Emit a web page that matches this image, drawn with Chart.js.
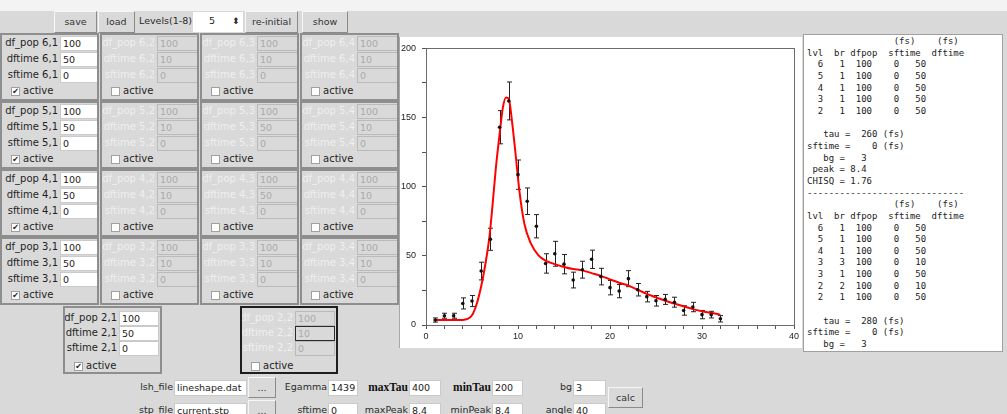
<!DOCTYPE html>
<html>
<head>
<meta charset="utf-8">
<title>lifetime fit</title>
<script src="https://cdn.jsdelivr.net/npm/chart.js@4.4.1/dist/chart.umd.min.js"></script>
<style>
  body { margin: 0; width: 1007px; height: 414px; overflow: hidden; position: relative;
         background: #d9d9d9; font-family: "DejaVu Sans", sans-serif; font-size: 9.5px; color: #2b2b2b; }
  #top { position: absolute; left: 0; top: 0; width: 1007px; height: 11px; background: #f3f3f3; }
  .btn { position: absolute; box-sizing: border-box; background: #d9d9d9; border: 1px solid;
         border-color: #f6f6f6 #8a8a8a #8a8a8a #f6f6f6; text-align: center; color: #333; }
  .ent { position: absolute; box-sizing: border-box; background: #fff; border: 1px solid #cacaca;
         padding-left: 2px; white-space: nowrap; overflow: hidden; color: #222; }
  .ent.off { background: #d9d9d9; border-color: #bababa; color: #a9a9a9; }
  .lbl { position: absolute; white-space: nowrap; text-align: right; }
  .panel { position: absolute; box-sizing: border-box; border: 2px solid #8e8e8e; overflow: hidden; }
  .panel .lbl { font-size: 10px; }
  .box { position: absolute; box-sizing: border-box; background: #fff; border: 1px solid #a0a0a0;
         font-size: 8px; text-align: center; color: #222; }
  #plot { position: absolute; left: 399px; top: 37px; width: 402px; height: 311px; background: #fff;
          border-left: 1px solid #a8a8a8; }
  #log { position: absolute; left: 803px; top: 34px; width: 200px; height: 318px; box-sizing: border-box;
         background: #fff; border: 1px solid #a0a0a0; overflow: hidden; }
  #log pre { margin: 0; padding: 1px 0 0 3px; font-family: "DejaVu Sans Mono", monospace; font-size: 9px;
             line-height: 11.65px; color: #222; }
</style>
</head>
<body>
<div id="top"></div>
<div id="plot"><canvas id="fit-chart"></canvas></div>
<div id="log"><pre>                (fs)    (fs)
lvl  br dfpop  sftime  dftime
  6   1  100    0   50
  5   1  100    0   50
  4   1  100    0   50
  3   1  100    0   50
  2   1  100    0   50

   tau =  260 (fs)
sftime =    0 (fs)
   bg =   3
 peak = 8.4
CHISQ = 1.76
-----------------------------
                (fs)    (fs)
lvl  br dfpop  sftime  dftime
  6   1  100    0   50
  5   1  100    0   50
  4   1  100    0   50
  3   3  100    0   10
  3   1  100    0   50
  2   2  100    0   10
  2   1  100    0   50

   tau =  280 (fs)
sftime =    0 (fs)
   bg =   3</pre></div>
<script>
// measured spectrum (counts per channel) with errors
var channels = [1, 2, 3, 4, 5, 6, 7, 8, 9, 10, 11, 12, 13, 14, 15, 16,
                17, 18, 19, 20, 21, 22, 23, 24, 25, 26, 27, 28, 29, 30, 31, 32];
var counts = [3.6, 6.7, 6.7, 15.6, 17.3, 39, 62, 143, 162, 108.7, 89.5, 71.4, 44.5, 51.5, 44, 32.5,
              40, 47.5, 35, 27, 24.5, 33.5, 25.5, 20.5, 17.5, 18.5, 16.5, 10.5, 13, 7.5, 7.5, 4.5];
var errors = [1.5, 1.8, 1.8, 4, 4, 6.4, 8, 12, 13.7, 10.6, 9.6, 8.4, 7, 9, 7, 5.7,
              6.1, 6.6, 6, 5.2, 4.8, 5.8, 4.5, 3.8, 3.8, 3.6, 3.6, 3.4, 3.4, 3, 2.4, 2.3];

// fitted lineshape
var fitX = [1, 2, 3, 4, 4.5, 5, 5.5, 6, 6.35, 6.9, 7.25, 7.6, 8, 8.35, 8.7, 9, 9.3, 9.7, 10.15, 10.7,
            11.4, 12.2, 13, 14, 15, 16, 17, 18, 19, 20, 21, 22, 23, 24, 25, 26, 27, 28, 29, 30, 31, 32];
var fitY = [3.6, 3.6, 3.6, 3.7, 4.4, 7, 15, 28, 40, 64, 88, 114, 138, 157, 164.5, 163.5, 150, 126, 97, 73,
            59, 50.5, 46.5, 44, 42, 40.5, 39.5, 37.5, 35.5, 33, 30.5, 28.5, 25.5, 22.5, 20, 17.5, 15.5, 13.5, 11.5, 10, 8.8, 7.5];

var xTickLabels = [0, 10, 20, 30, 40];
var yTickLabels = [0, 50, 100, 150, 200];

// ---- the Tk style form around the plot ----
var gui = document.body;

function put(parent, cls, text, x, y, w, h) {
    var el = document.createElement('div');
    el.className = cls;
    el.textContent = text;
    el.style.left = x + 'px';
    el.style.top = y + 'px';
    if (w != null) el.style.width = w + 'px';
    if (h != null) {
        el.style.height = h + 'px';
        el.style.lineHeight = (h - 2) + 'px';
    }
    parent.appendChild(el);
    return el;
}

function label(parent, text, right, cy, color) {
    var el = put(parent, 'lbl', text, right - 90, cy - 7, 90, 14);
    if (color) el.style.color = color;
    return el;
}

function panel(x, y, w, h, lvl, br, vals, on, opt) {
    var p = put(gui, 'panel', '', x, y, w, h);
    p.style.lineHeight = 'normal';
    if (opt.dark) p.style.borderColor = '#1e1e1e';
    var names = ['df_pop', 'dftime', 'sftime'];
    for (var i = 0; i < 3; i++) {
        label(p, names[i] + ' ' + lvl + ',' + br, opt.ex - 2, opt.rows[i] + 7.5, on ? '#1f1f1f' : '#efefef');
        var e = put(p, on ? 'ent' : 'ent off', String(vals[i]), opt.ex, opt.rows[i], opt.ew, 15);
        if (opt.dark && i == 1) e.style.borderColor = '#2a2a2a';
    }
    var b = put(p, 'box', on ? '\u2714' : '', 9, opt.rows[3], 9, 9);
    b.style.lineHeight = '8px';
    var a = put(p, 'lbl', 'active', 21, opt.rows[3] - 3, null, 15);
    a.style.textAlign = 'left';
    a.style.color = '#1f1f1f';
}

// toolbar
put(gui, 'btn', 'save', 54, 11, 43, 22);
put(gui, 'btn', 'load', 98, 11, 37, 22);
label(gui, 'Levels(1-8)', 192, 22);
var spin = put(gui, 'ent', '5', 193, 12, 50, 20);
spin.style.paddingLeft = '16px';
spin.style.border = 'none';
put(gui, 'lbl', '\u2B0D', 232, 15, null, 14).style.fontSize = '9px';
put(gui, 'btn', 're-initial', 245, 11, 53, 22);
put(gui, 'btn', 'show', 302, 11, 46, 22);

// level panels 6..3, branches 1..4
var levels = [6, 5, 4, 3];
var rowTops = [33, 101, 169, 237];
var stdRows = [1, 17, 33, 52];
for (var r = 0; r < levels.length; r++) {
    for (var c = 0; c < 4; c++) {
        var lv = levels[r], br = c + 1;
        var dft = (br == 1 || (br == 3 && (lv == 5 || lv == 4))) ? 50 : 10;
        var on = br == 1;
        panel(c * 100, rowTops[r], 99, 68, lv, br, [100, dft, 0], on,
              { ex: on ? 58 : 55, ew: on ? 39 : 41, rows: stdRows });
    }
}
panel(63, 306, 99, 68, 2, 1, [100, 50, 0], true, { ex: 54, ew: 40, rows: [3, 18, 33, 54] });
panel(240, 306, 98, 68, 2, 2, [100, 10, 0], false, { ex: 53, ew: 40, rows: [3, 18, 33, 54], dark: true });

// bottom parameter rows
var serifBold = function (el) {
    el.style.fontFamily = '"Liberation Serif", serif';
    el.style.fontWeight = 'bold';
    el.style.fontSize = '11.5px';
};
label(gui, 'lsh_file', 173, 388);
put(gui, 'ent', 'lineshape.dat', 174, 380, 73, 16);
put(gui, 'btn', '...', 248, 377, 28, 21);
label(gui, 'Egamma', 327, 388);
put(gui, 'ent', '1439', 328, 380, 30, 16);
serifBold(label(gui, 'maxTau', 408, 388, '#111'));
put(gui, 'ent', '400', 409, 380, 32, 16);
serifBold(label(gui, 'minTau', 491, 388, '#111'));
put(gui, 'ent', '200', 492, 380, 31, 16);
label(gui, 'bg', 572, 388);
put(gui, 'ent', '3', 573, 380, 33, 16);
put(gui, 'btn', 'calc', 608, 387, 35, 21);

label(gui, 'stp_file', 173, 411);
put(gui, 'ent', 'current.stp', 174, 403, 73, 16);
put(gui, 'btn', '...', 248, 400, 28, 21);
label(gui, 'sftime', 327, 411);
put(gui, 'ent', '0', 328, 403, 30, 16);
label(gui, 'maxPeak', 408, 411);
put(gui, 'ent', '8.4', 409, 403, 32, 16);
label(gui, 'minPeak', 491, 411);
put(gui, 'ent', '8.4', 492, 403, 31, 16);
label(gui, 'angle', 572, 411);
put(gui, 'ent', '40', 573, 403, 33, 16);

// ---- chart ----
var errorBars = {
    id: 'errorBars',
    beforeDatasetsDraw: function (chart) {
        var c = chart.ctx, xs = chart.scales.x, ys = chart.scales.y;
        c.save();
        c.strokeStyle = '#222';
        c.lineWidth = 1;
        for (var i = 0; i < channels.length; i++) {
            var px = Math.round(xs.getPixelForValue(channels[i])) + 0.5;
            var top = ys.getPixelForValue(counts[i] + errors[i]);
            var bot = ys.getPixelForValue(counts[i] - errors[i]);
            c.beginPath();
            c.moveTo(px, top); c.lineTo(px, bot);
            c.moveTo(px - 2.5, top); c.lineTo(px + 2.5, top);
            c.moveTo(px - 2.5, bot); c.lineTo(px + 2.5, bot);
            c.stroke();
        }
        c.restore();
    }
};

var frame = {
    id: 'frame',
    afterDraw: function (chart) {
        var a = chart.chartArea, c = chart.ctx;
        c.save();
        c.strokeStyle = '#6a6a6a';
        c.lineWidth = 1;
        c.strokeRect(Math.round(a.left) + 0.5, Math.round(a.top) + 0.5,
                     Math.round(a.right - a.left), Math.round(a.bottom - a.top));
        c.restore();
    }
};

var points = channels.map(function (x, i) { return { x: x, y: counts[i] }; });
var fitLine = fitX.map(function (x, i) { return { x: x, y: fitY[i] }; });
var tickFont = { family: '"Liberation Sans", Arial, sans-serif', size: 9 };

var ctx = document.getElementById('fit-chart').getContext('2d');
var chart = new Chart(ctx, {
    type: 'scatter',
    data: {
        datasets: [{
            label: 'data',
            data: points,
            pointRadius: 1.8,
            pointBackgroundColor: '#111',
            pointBorderColor: '#111',
            pointBorderWidth: 0,
            showLine: false
        }, {
            label: 'fit',
            data: fitLine,
            showLine: true,
            borderColor: '#ff0000',
            borderWidth: 2,
            pointRadius: 0,
            cubicInterpolationMode: 'monotone',
            fill: false
        }]
    },
    options: {
        responsive: true,
        maintainAspectRatio: false,
        animation: false,
        events: [],
        layout: { padding: { top: 10, right: 8, left: 0, bottom: 0 } },
        plugins: { legend: { display: false }, tooltip: { enabled: false } },
        scales: {
            x: {
                type: 'linear',
                min: 0,
                max: 40,
                afterFit: function (s) { s.height = 23; },
                border: { color: '#555' },
                grid: { drawOnChartArea: false, tickLength: 4, tickColor: '#555' },
                ticks: {
                    stepSize: 2,
                    autoSkip: false,
                    maxRotation: 0,
                    padding: 2,
                    color: '#222',
                    font: tickFont,
                    callback: function (v) { return xTickLabels.indexOf(v) >= 0 ? String(v) : ''; }
                }
            },
            y: {
                min: 0,
                max: 200,
                afterFit: function (s) { s.width = 26; },
                border: { color: '#555' },
                grid: { drawOnChartArea: false, tickLength: 4, tickColor: '#555' },
                ticks: {
                    stepSize: 25,
                    autoSkip: false,
                    padding: 6,
                    color: '#222',
                    font: tickFont,
                    callback: function (v) { return yTickLabels.indexOf(v) >= 0 ? String(v) : ''; }
                }
            }
        }
    },
    plugins: [errorBars, frame]
});
</script>
</body>
</html>
